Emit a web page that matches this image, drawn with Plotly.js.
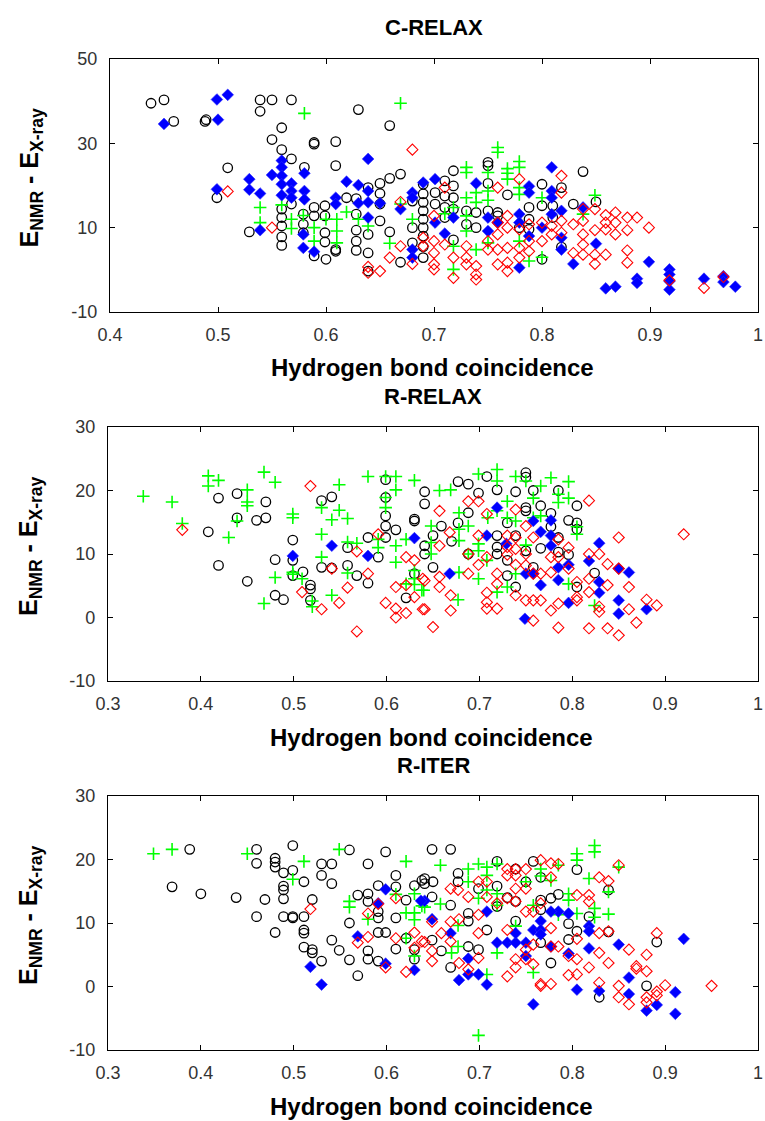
<!DOCTYPE html>
<html>
<head>
<meta charset="utf-8">
<script src="https://cdn.plot.ly/plotly-3.0.1.min.js"></script>
<style>
html,body{margin:0;padding:0;background:#fff;}
</style>
</head>
<body>
<div id="chart" style="width:765px;height:1121px;"></div>
<script>
// ---------- Titles / tick labels ----------
const panelTitles = ['C-RELAX', 'R-RELAX', 'R-ITER'];
const xTitle = 'Hydrogen bond coincidence';
const yTitle = 'E<sub>NMR</sub> - E<sub>X-ray</sub>';
const x1TickVals = [0.4, 0.5, 0.6, 0.7, 0.8, 0.9, 1.0];
const x1TickText = ['0.4', '0.5', '0.6', '0.7', '0.8', '0.9', '1'];
const x23TickVals = [0.3, 0.4, 0.5, 0.6, 0.7, 0.8, 0.9, 1.0];
const x23TickText = ['0.3', '0.4', '0.5', '0.6', '0.7', '0.8', '0.9', '1'];
const y1TickVals = [-10, 10, 30, 50];
const y1TickText = ['-10', '10', '30', '50'];
const y23TickVals = [-10, 0, 10, 20, 30];
const y23TickText = ['-10', '0', '10', '20', '30'];

// ---------- Panel 1: C-RELAX ----------
const cBlackX = [0.438,0.45,0.459,0.489,0.488,0.509,0.499,0.529,0.539,0.55,0.539,0.568,0.559,0.55,0.559,0.568,0.58,0.589,0.589,0.609,0.609,0.63,0.659,0.669,0.659,0.65,0.65,0.65,0.619,0.599,0.599,0.599,0.599,0.6,0.589,0.589,0.589,0.579,0.579,0.579,0.568,0.559,0.559,0.559,0.559,0.559,0.609,0.609,0.628,0.628,0.628,0.628,0.628,0.639,0.639,0.639,0.639,0.65,0.659,0.669,0.68,0.68,0.68,0.69,0.69,0.69,0.69,0.69,0.69,0.69,0.69,0.69,0.701,0.701,0.71,0.71,0.71,0.71,0.718,0.718,0.718,0.718,0.718,0.73,0.73,0.739,0.739,0.75,0.75,0.75,0.75,0.759,0.759,0.768,0.779,0.788,0.788,0.788,0.8,0.8,0.8,0.81,0.81,0.818,0.818,0.829,0.838,0.85];
const cBlackY = [39.5,40.3,35.2,35.6,35.2,24.2,17.1,9.0,40.3,40.3,37.6,40.3,33.7,30.9,28.5,26.3,24.3,30.2,29.8,30.4,24.7,38.0,34.2,22.7,21.7,20.5,18.1,15.6,17.1,15.2,12.8,8.8,6.6,2.5,12.8,14.8,3.3,13.2,10.8,8.8,15.6,14.4,12.4,10.4,7.8,5.8,4.8,4.4,16.9,13.2,9.4,6.8,4.6,19.5,8.4,4.0,-0.3,11.6,9.0,1.8,6.4,10.0,16.3,20.3,18.0,16.0,14.0,12.0,10.0,8.0,5.5,2.9,18.3,15.6,21.1,17.5,14.8,12.4,23.5,19.9,17.1,14.4,7.1,14.0,10.8,13.6,10.0,25.5,24.7,20.5,14.0,13.6,12.8,17.8,10.0,14.8,12.0,9.6,20.3,15.2,2.5,15.2,12.4,19.5,5.4,15.6,23.3,16.1];
const cBlueX = [0.45,0.499,0.509,0.5,0.499,0.529,0.529,0.539,0.539,0.55,0.559,0.559,0.559,0.559,0.559,0.568,0.568,0.568,0.58,0.58,0.58,0.579,0.579,0.589,0.609,0.609,0.619,0.63,0.63,0.639,0.639,0.639,0.639,0.65,0.669,0.68,0.68,0.68,0.68,0.69,0.701,0.701,0.71,0.718,0.739,0.75,0.75,0.759,0.779,0.779,0.779,0.788,0.788,0.788,0.8,0.809,0.809,0.809,0.809,0.818,0.818,0.818,0.829,0.838,0.85,0.859,0.868,0.888,0.888,0.899,0.918,0.918,0.918,0.918,0.95,0.968,0.968,0.979];
const cBlueY = [34.6,40.4,41.5,35.6,19.1,21.5,19.0,18.1,9.4,22.5,25.9,24.3,22.3,20.3,17.7,20.5,18.7,17.1,22.9,18.7,16.7,8.4,5.2,4.3,17.1,15.6,20.9,20.1,15.8,26.3,18.7,16.0,12.4,15.8,14.4,18.3,17.1,4.8,2.9,20.7,21.5,11.2,8.6,12.4,20.5,12.4,9.2,11.2,13.2,11.2,0.5,19.8,18.3,8.0,10.0,24.3,18.7,17.1,13.2,14.0,7.6,4.8,1.4,14.8,6.2,-4.4,-4.0,-2.1,-3.1,1.9,0.1,-1.1,-2.7,-4.7,-2.1,-1.5,-2.9,-4.0];
const cGreenX = [0.669,0.58,0.539,0.539,0.559,0.568,0.568,0.579,0.589,0.589,0.6,0.61,0.61,0.61,0.619,0.63,0.639,0.659,0.669,0.68,0.759,0.759,0.73,0.73,0.768,0.768,0.768,0.779,0.779,0.779,0.779,0.75,0.75,0.75,0.739,0.739,0.73,0.73,0.73,0.718,0.71,0.8,0.849,0.838,0.718,0.718,0.739,0.788,0.8,0.779,0.75];
const cGreenY = [39.5,37.1,14.8,11.2,15.4,12.0,9.8,12.9,10.0,6.8,12.0,12.0,9.2,6.4,13.7,12.0,10.4,6.3,15.6,12.0,29.0,27.9,24.3,23.1,24.0,22.9,21.5,25.7,24.3,19.5,17.9,23.1,18.7,16.5,18.3,16.0,17.1,12.8,9.2,14.8,13.3,17.1,17.7,13.2,5.6,0.1,4.8,2.1,3.0,6.8,6.4];
const cRedX = [0.509,0.55,0.68,0.669,0.669,0.659,0.639,0.639,0.65,0.68,0.69,0.69,0.779,0.759,0.818,0.818,0.71,0.70,0.70,0.70,0.70,0.70,0.71,0.718,0.718,0.73,0.73,0.73,0.739,0.739,0.739,0.75,0.75,0.759,0.759,0.759,0.759,0.768,0.768,0.768,0.768,0.768,0.779,0.779,0.779,0.788,0.788,0.788,0.8,0.8,0.809,0.809,0.818,0.818,0.829,0.829,0.838,0.838,0.838,0.838,0.838,0.849,0.849,0.849,0.849,0.859,0.859,0.859,0.859,0.868,0.868,0.868,0.879,0.879,0.879,0.879,0.888,0.899,0.918,0.95,0.968];
const cRedY = [18.6,10.0,28.5,16.1,5.6,2.9,0.7,-0.7,-0.3,1.4,7.6,5.6,21.5,19.5,22.3,18.3,19.5,12.8,6.8,4.0,1.3,0.1,6.0,2.9,-1.9,5.6,2.9,1.3,0.9,-1.1,-2.3,6.8,4.8,11.2,8.4,4.8,1.3,12.8,10.0,5.2,1.7,-0.3,9.6,5.2,2.9,10.8,6.8,4.4,11.2,6.8,10.4,8.4,11.6,8.8,10.8,4.0,14.4,11.6,8.4,6.0,3.6,14.4,9.4,3.6,1.4,13.0,11.2,9.6,3.6,13.6,11.2,8.4,12.4,9.4,4.6,1.7,12.4,10.0,-2.5,-4.3,-1.7];

// ---------- Panel 2: R-RELAX ----------
const rBlackX = [0.408,0.419,0.419,0.439,0.439,0.45,0.46,0.47,0.47,0.48,0.48,0.489,0.499,0.499,0.499,0.51,0.518,0.518,0.518,0.53,0.541,0.53,0.541,0.558,0.558,0.568,0.58,0.58,0.591,0.599,0.599,0.599,0.599,0.599,0.61,0.621,0.63,0.63,0.63,0.641,0.641,0.641,0.641,0.65,0.65,0.659,0.67,0.677,0.688,0.677,0.688,0.688,0.699,0.708,0.719,0.719,0.719,0.73,0.73,0.73,0.739,0.739,0.739,0.75,0.75,0.75,0.75,0.758,0.758,0.766,0.766,0.777,0.777,0.785,0.785,0.785,0.796,0.796,0.805,0.805,0.805,0.805,0.824,0.75,0.719];
const rBlackY = [13.5,18.8,8.2,19.5,15.7,5.7,15.3,15.7,18.2,9.1,3.5,2.8,12.2,9.0,6.6,7.2,5.1,4.5,2.7,18.4,19.0,7.9,7.8,11.0,8.2,6.6,12.6,5.4,9.5,21.7,18.9,16.0,14.4,12.6,13.8,3.1,15.5,15.2,6.9,19.8,17.9,11.3,10.0,12.9,7.9,14.4,12.0,21.4,21.0,14.9,16.5,10.0,19.6,22.2,20.1,12.9,10.0,14.9,9.0,6.6,19.8,12.9,4.8,22.8,22.1,17.3,16.8,20.0,7.9,17.6,10.9,16.4,14.3,20.0,12.6,10.3,15.3,9.9,17.6,14.9,13.9,4.8,7.0,10.5,11.1];
const rBlueX = [0.499,0.541,0.58,0.63,0.719,0.708,0.668,0.729,0.758,0.766,0.777,0.777,0.777,0.75,0.758,0.766,0.785,0.785,0.796,0.796,0.818,0.829,0.829,0.829,0.85,0.85,0.85,0.861,0.88,0.749];
const rBlueY = [9.7,11.3,9.7,12.5,17.3,12.9,6.9,11.6,15.2,13.5,15.3,12.9,11.3,6.9,6.9,5.1,7.9,5.9,8.3,2.3,8.9,11.7,5.6,3.9,7.7,2.7,0.6,7.1,1.3,-0.2];
const rGreenX = [0.338,0.369,0.38,0.408,0.408,0.419,0.43,0.439,0.45,0.45,0.45,0.468,0.468,0.48,0.48,0.499,0.499,0.499,0.499,0.509,0.52,0.52,0.53,0.53,0.53,0.541,0.541,0.549,0.549,0.558,0.558,0.568,0.558,0.58,0.591,0.591,0.599,0.61,0.599,0.599,0.61,0.61,0.61,0.621,0.621,0.63,0.63,0.63,0.63,0.64,0.657,0.669,0.699,0.719,0.719,0.739,0.75,0.766,0.777,0.785,0.785,0.796,0.796,0.758,0.73,0.648,0.648,0.648,0.678,0.678,0.678,0.688,0.699,0.699,0.699,0.709,0.719,0.73,0.739,0.758,0.766,0.75,0.678,0.677,0.708,0.719,0.73,0.739,0.796,0.805,0.805,0.824,0.638,0.688];
const rGreenY = [19.1,18.2,14.8,22.3,20.7,21.6,12.6,15.2,20.1,18.2,17.6,22.9,2.2,21.3,6.3,16.3,15.7,7.1,6.8,6.1,2.6,1.7,17.3,13.1,9.5,15.4,3.5,20.9,16.9,15.6,11.9,11.7,7.0,22.2,12.3,11.0,22.2,22.2,18.9,17.3,20.1,11.3,8.7,12.3,5.3,21.6,7.4,6.1,5.2,4.3,20.0,20.1,22.6,23.3,21.5,22.2,21.5,20.7,22.0,19.4,18.1,21.4,18.8,18.8,18.3,14.4,11.8,10.0,16.5,13.9,12.1,14.4,11.6,10.5,6.1,15.7,16.8,15.7,15.2,15.7,16.0,11.4,7.1,2.8,9.0,4.0,4.8,6.9,5.3,14.3,13.1,1.9,4.3,10.0];
const rRedX = [0.38,0.518,0.541,0.509,0.53,0.549,0.558,0.568,0.568,0.58,0.591,0.599,0.61,0.61,0.61,0.621,0.621,0.621,0.63,0.63,0.641,0.641,0.639,0.639,0.65,0.657,0.657,0.657,0.657,0.668,0.669,0.669,0.688,0.688,0.688,0.699,0.699,0.699,0.708,0.708,0.708,0.708,0.708,0.719,0.719,0.719,0.73,0.73,0.73,0.739,0.739,0.739,0.739,0.739,0.75,0.75,0.75,0.75,0.758,0.758,0.758,0.758,0.766,0.766,0.777,0.777,0.777,0.785,0.785,0.785,0.785,0.796,0.796,0.805,0.805,0.805,0.818,0.818,0.818,0.818,0.818,0.829,0.829,0.829,0.838,0.838,0.838,0.85,0.85,0.85,0.861,0.861,0.869,0.88,0.891,0.92];
const rRedY = [13.8,20.7,7.7,4.0,1.3,2.3,4.7,10.4,-2.2,6.9,13.1,2.3,4.8,1.4,0.0,9.5,5.1,0.7,9.0,3.2,1.3,5.8,6.1,1.3,-1.5,16.8,11.3,6.4,4.8,13.4,3.5,1.1,18.3,10.0,6.9,18.3,12.9,8.3,16.3,9.5,3.9,2.4,1.4,6.9,5.3,1.4,12.9,11.1,9.9,17.0,12.6,10.8,8.3,3.5,14.4,10.0,8.2,2.7,12.6,6.9,2.7,-0.5,6.9,2.7,9.5,7.1,1.1,12.3,9.5,2.2,-1.6,11.0,7.7,5.6,3.2,2.7,18.4,10.0,6.1,4.0,-1.7,10.0,1.7,0.9,8.4,5.1,-1.7,12.6,7.7,-2.8,4.8,1.3,-0.8,2.8,1.9,13.1];

// ---------- Panel 3: R-ITER ----------
const iBlackX = [0.388,0.369,0.4,0.438,0.46,0.46,0.46,0.469,0.48,0.48,0.48,0.48,0.489,0.489,0.489,0.489,0.489,0.499,0.499,0.499,0.499,0.511,0.511,0.511,0.511,0.511,0.52,0.52,0.52,0.53,0.541,0.53,0.541,0.53,0.541,0.549,0.56,0.56,0.56,0.569,0.569,0.58,0.58,0.58,0.58,0.58,0.591,0.591,0.591,0.591,0.591,0.599,0.599,0.61,0.61,0.61,0.61,0.621,0.621,0.63,0.63,0.63,0.641,0.641,0.649,0.669,0.638,0.65,0.649,0.649,0.669,0.669,0.659,0.677,0.677,0.688,0.688,0.688,0.699,0.699,0.708,0.719,0.719,0.719,0.73,0.739,0.739,0.739,0.75,0.758,0.766,0.766,0.766,0.766,0.777,0.777,0.785,0.796,0.796,0.805,0.805,0.818,0.829,0.839,0.839,0.88,0.891];
const iBlackY = [21.6,15.7,14.6,14.0,21.6,19.4,11.0,13.7,20.2,19.6,18.8,8.5,17.9,15.8,15.2,13.8,11.0,22.2,18.3,11.0,10.8,16.5,11.0,8.9,8.4,6.2,13.7,5.8,5.3,19.3,19.3,17.5,16.2,4.0,7.3,5.7,21.5,10.0,4.2,14.4,1.7,19.3,14.6,13.4,5.6,4.3,15.9,11.8,10.8,8.5,4.0,21.2,8.5,17.5,15.7,10.8,5.9,13.6,7.6,15.9,5.8,4.3,17.0,16.2,21.6,21.6,16.7,16.5,14.1,7.3,12.8,3.0,5.6,17.8,16.5,11.5,10.3,6.3,15.4,5.8,8.9,19.7,15.8,12.6,14.0,18.5,13.4,10.3,16.5,19.7,17.2,13.6,12.1,6.9,13.9,3.7,14.5,9.9,7.4,18.4,8.7,11.0,-1.7,15.2,8.6,0.1,7.0];
const iBlueX = [0.518,0.53,0.569,0.599,0.591,0.599,0.63,0.641,0.637,0.649,0.669,0.708,0.678,0.688,0.699,0.688,0.708,0.719,0.73,0.739,0.739,0.75,0.75,0.758,0.758,0.766,0.766,0.766,0.777,0.785,0.796,0.796,0.818,0.818,0.818,0.805,0.829,0.85,0.861,0.861,0.88,0.891,0.911,0.911,0.92,0.777];
const iBlueY = [3.1,0.3,7.9,15.3,13.1,3.6,2.6,13.5,13.5,10.6,8.4,11.8,1.0,1.9,1.9,4.4,0.3,6.9,6.9,6.9,8.4,6.9,4.8,8.9,-2.8,10.3,8.9,8.2,6.3,11.8,11.5,5.2,9.5,8.7,6.0,-0.5,-0.7,6.6,1.4,-1.2,-3.8,-2.9,-0.9,-4.3,7.5,11.8];
const iGreenX = [0.349,0.369,0.45,0.511,0.499,0.549,0.56,0.56,0.58,0.61,0.621,0.621,0.63,0.63,0.63,0.63,0.641,0.621,0.658,0.658,0.638,0.688,0.688,0.699,0.708,0.708,0.719,0.699,0.708,0.719,0.719,0.75,0.766,0.766,0.777,0.785,0.796,0.796,0.805,0.805,0.824,0.824,0.818,0.85,0.839,0.824,0.824,0.839,0.805,0.785,0.758,0.739,0.719,0.677,0.677,0.67,0.708,0.758,0.699];
const iGreenY = [20.9,21.6,20.9,19.7,16.9,21.6,13.4,12.5,10.6,14.5,19.7,11.6,14.6,11.6,10.5,4.8,12.5,7.6,19.1,13.0,12.7,18.5,16.5,19.3,18.8,17.5,19.3,13.9,15.2,14.6,12.8,16.5,18.5,17.4,16.7,19.1,14.6,13.6,20.9,19.9,22.2,21.2,17.0,18.8,14.9,12.3,10.9,11.4,11.5,11.3,12.8,9.5,5.3,9.6,6.3,5.3,1.9,2.2,-7.7];
const iRedX = [0.518,0.58,0.58,0.569,0.591,0.599,0.61,0.61,0.621,0.63,0.63,0.641,0.649,0.659,0.669,0.638,0.649,0.649,0.669,0.677,0.669,0.678,0.678,0.688,0.688,0.699,0.699,0.699,0.699,0.708,0.708,0.719,0.73,0.73,0.73,0.73,0.73,0.739,0.739,0.739,0.739,0.739,0.739,0.75,0.75,0.75,0.75,0.75,0.758,0.758,0.758,0.766,0.766,0.766,0.766,0.777,0.777,0.777,0.777,0.777,0.785,0.785,0.796,0.796,0.805,0.805,0.805,0.805,0.818,0.818,0.818,0.829,0.829,0.829,0.829,0.839,0.839,0.839,0.85,0.85,0.85,0.861,0.861,0.869,0.869,0.88,0.88,0.88,0.88,0.891,0.891,0.891,0.9,0.95];
const iRedY = [12.2,11.5,7.8,6.9,13.0,3.0,13.9,7.6,2.3,8.5,6.1,7.0,10.2,8.4,10.2,7.1,5.6,4.0,15.4,15.2,7.1,10.6,3.7,14.1,2.7,16.5,11.3,8.4,4.5,16.5,14.1,13.1,18.5,17.5,13.9,8.9,1.6,18.5,17.5,15.4,13.4,4.3,3.0,18.5,15.4,11.8,5.8,4.3,11.8,6.6,3.5,19.9,13.1,0.4,0.1,19.4,17.2,9.2,6.3,0.4,19.3,6.3,4.8,1.8,14.4,7.5,4.3,1.9,14.4,13.4,3.0,17.2,8.4,5.3,0.6,16.6,8.7,3.7,19.1,0.1,-1.7,5.8,-2.8,3.2,2.8,5.0,2.4,-1.7,-2.5,8.4,-0.8,-1.4,0.2,0.1];

// ---------- Build ----------
const W = 765, H = 1121;
const panels = [
  {black:[cBlackX,cBlackY], blue:[cBlueX,cBlueY], green:[cGreenX,cGreenY], red:[cRedX,cRedY]},
  {black:[rBlackX,rBlackY], blue:[rBlueX,rBlueY], green:[rGreenX,rGreenY], red:[rRedX,rRedY]},
  {black:[iBlackX,iBlackY], blue:[iBlueX,iBlueY], green:[iGreenX,iGreenY], red:[iRedX,iRedY]}
];
const styles = {
  black: {symbol:'circle-open', color:'#000000', size:9.5, line:{width:1.3, color:'#000000'}},
  green: {symbol:'cross-thin', color:'#00ff00', size:9, line:{width:1.6, color:'#00ff00'}},
  blue:  {symbol:'diamond', color:'#0000ff', size:9, line:{width:0.6, color:'#2a2aff'}},
  red:   {symbol:'diamond-open', color:'#ff0000', size:8.5, line:{width:1.1, color:'#ff0000'}}
};
const order = ['black', 'green', 'blue', 'red'];
const traces = [];
panels.forEach((p, i) => {
  const sfx = i === 0 ? '' : String(i + 1);
  order.forEach(k => {
    traces.push({
      type: 'scatter', mode: 'markers',
      x: p[k][0], y: p[k][1],
      xaxis: 'x' + sfx, yaxis: 'y' + sfx,
      marker: styles[k], hoverinfo: 'skip', cliponaxis: true
    });
  });
});

// pixel geometry of the three boxes: [left, right, top, bottom]
const boxes = [[110, 758, 59, 312], [108, 758, 427, 681], [108, 758, 796, 1050]];
const tickFont = {family: 'Liberation Sans, Arial, sans-serif', size: 18, color: '#333333'};
const layout = {
  width: W, height: H,
  margin: {l: 0, r: 0, t: 0, b: 0},
  paper_bgcolor: '#ffffff', plot_bgcolor: '#ffffff',
  showlegend: false,
  annotations: []
};
boxes.forEach((b, i) => {
  const sfx = i === 0 ? '' : String(i + 1);
  const common = {
    showline: true, linecolor: '#000000', linewidth: 1.2, mirror: 'ticks',
    ticks: 'inside', ticklen: 5, tickcolor: '#000000', tickwidth: 1,
    showgrid: false, zeroline: false, tickfont: tickFont, fixedrange: true
  };
  layout['xaxis' + sfx] = Object.assign({}, common, {
    domain: [b[0] / W, b[1] / W], anchor: 'y' + sfx,
    range: i === 0 ? [0.4, 1] : [0.3, 1],
    tickmode: 'array',
    tickvals: i === 0 ? x1TickVals : x23TickVals,
    ticktext: i === 0 ? x1TickText : x23TickText,
    ticklabelstandoff: 6
  });
  layout['yaxis' + sfx] = Object.assign({}, common, {
    domain: [(H - b[3]) / H, (H - b[2]) / H], anchor: 'x' + sfx,
    range: i === 0 ? [-10, 50] : [-10, 30],
    tickmode: 'array',
    tickvals: i === 0 ? y1TickVals : y23TickVals,
    ticktext: i === 0 ? y1TickText : y23TickText,
    ticklabelstandoff: 8
  });
  const cx = (b[0] + b[1]) / 2;
  const boldFont = {family: 'Liberation Sans, Arial, sans-serif', size: 22, color: '#000000'};
  // panel title
  layout.annotations.push({
    xref: 'paper', yref: 'paper', x: cx / W, y: (H - (b[2] - 31)) / H,
    xanchor: 'center', yanchor: 'middle', showarrow: false,
    text: '<b>' + panelTitles[i] + '</b>', font: boldFont
  });
  // x title
  layout.annotations.push({
    xref: 'paper', yref: 'paper', x: (cx - 2) / W, y: (H - (b[3] + 56)) / H,
    xanchor: 'center', yanchor: 'middle', showarrow: false,
    text: '<b>' + xTitle + '</b>', font: Object.assign({}, boldFont, {size: 24})
  });
  // y title
  layout.annotations.push({
    xref: 'paper', yref: 'paper', x: 30 / W, y: (H - ((b[2] + b[3]) / 2 - 7)) / H,
    xanchor: 'center', yanchor: 'middle', showarrow: false, textangle: -90,
    text: '<b>' + yTitle + '</b>', font: Object.assign({}, boldFont, {size: 25})
  });
});

Plotly.newPlot('chart', traces, layout, {staticPlot: true, displayModeBar: false});
</script>
</body>
</html>
